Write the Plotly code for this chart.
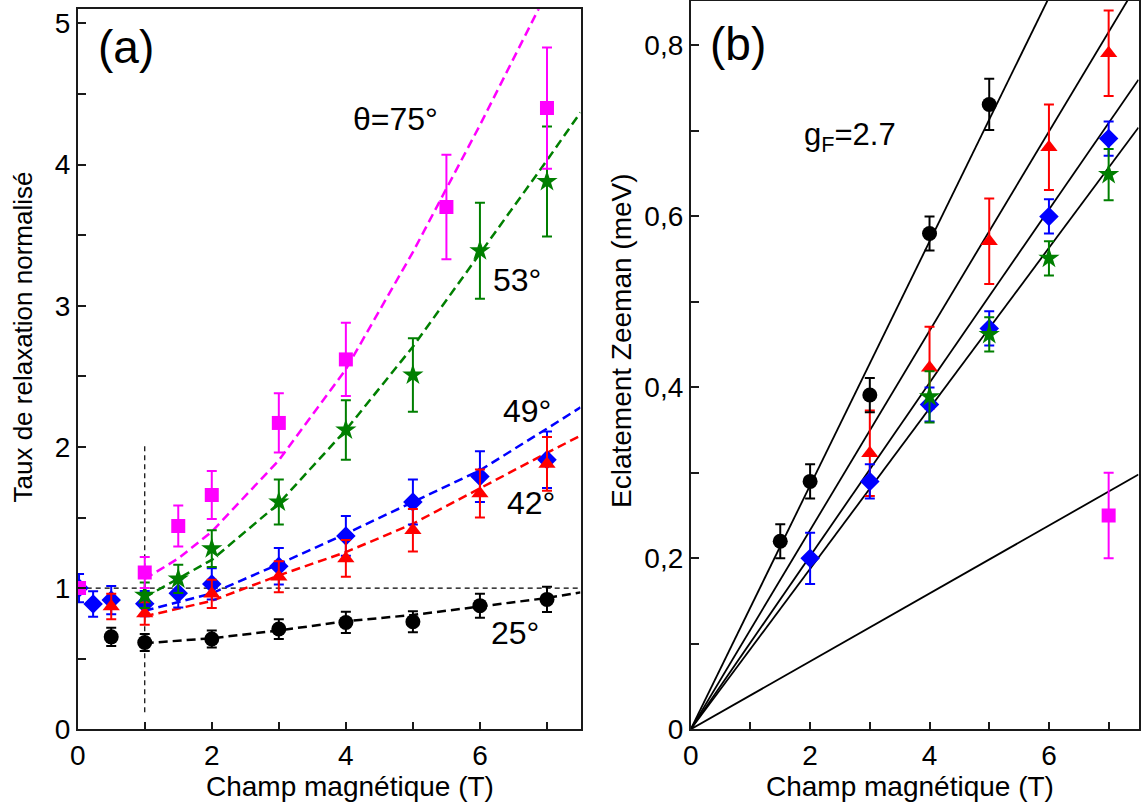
import plotly.graph_objects as go

W, H = 1142, 806

# ---------------- Panel (a) data ----------------
a_x25 = [0.5, 1, 2, 3, 4, 5, 6, 7]
a_y25 = [0.655, 0.615, 0.64, 0.71, 0.757, 0.762, 0.876, 0.92]
a_e25 = [0.065, 0.06, 0.06, 0.07, 0.075, 0.075, 0.085, 0.09]

a_x42 = [0.5, 1, 2, 3, 4, 5, 6, 7]
a_y42 = [0.87, 0.82, 0.96, 1.08, 1.21, 1.41, 1.67, 1.88]
a_e42 = [0.09, 0.08, 0.10, 0.11, 0.13, 0.15, 0.17, 0.19]

a_x49 = [0.02, 0.23, 0.5, 1, 1.5, 2, 3, 4, 5, 6, 7]
a_y49 = [1.0, 0.888, 0.915, 0.89, 0.963, 1.03, 1.155, 1.37, 1.61, 1.79, 1.91]
a_e49 = [0.10, 0.09, 0.10, 0.09, 0.10, 0.11, 0.13, 0.14, 0.16, 0.18, 0.20]

a_x53 = [1, 1.5, 2, 3, 4, 5, 6, 7]
a_y53 = [0.95, 1.065, 1.28, 1.61, 2.12, 2.51, 3.39, 3.88]
a_e53 = [0.09, 0.10, 0.13, 0.16, 0.21, 0.26, 0.34, 0.39]

a_x75 = [0.02, 1, 1.5, 2, 3, 4, 5.5, 7]
a_y75 = [1.0, 1.11, 1.44, 1.66, 2.17, 2.62, 3.70, 4.40]
a_e75 = [0.0, 0.11, 0.145, 0.17, 0.21, 0.26, 0.37, 0.43]

# fitted (dashed) curves
fit_x = [1, 2, 3, 4, 5, 6, 7, 7.5]
fit_25 = [0.61, 0.645, 0.70, 0.765, 0.81, 0.87, 0.93, 0.97]
fit_42 = [0.80, 0.91, 1.09, 1.255, 1.456, 1.71, 1.958, 2.08]
fit_49 = [0.84, 0.963, 1.17, 1.385, 1.61, 1.834, 2.13, 2.28]
fit_53 = [0.935, 1.20, 1.60, 2.12, 2.71, 3.37, 4.03, 4.37]
fit75_x = [1, 1.5, 2, 3, 4, 5, 6, 7]
fit_75 = [1.065, 1.21, 1.40, 1.905, 2.55, 3.38, 4.28, 5.22]

# reference lines
ref_h_x = [0, 7.5]
ref_h_y = [1, 1]
ref_v_x = [1, 1]
ref_v_y = [0.12, 2.03]

# ---------------- Panel (b) data ----------------
b_x25 = [1.5, 2, 3, 4, 5]
b_y25 = [0.22, 0.29, 0.391, 0.58, 0.731]
b_e25 = [0.02, 0.02, 0.02, 0.02, 0.03]

b_x42 = [3, 4, 5, 6, 7]
b_y42 = [0.323, 0.423, 0.571, 0.681, 0.791]
b_e42 = [0.05, 0.048, 0.05, 0.05, 0.05]

b_x49 = [2, 3, 4, 5, 6, 7]
b_y49 = [0.20, 0.29, 0.38, 0.469, 0.60, 0.691]
b_e49 = [0.03, 0.02, 0.02, 0.02, 0.02, 0.02]

b_x53 = [4, 5, 6, 7]
b_y53 = [0.389, 0.462, 0.551, 0.649]
b_e53 = [0.03, 0.02, 0.02, 0.03]

b_x75 = [7]
b_y75 = [0.25]
b_e75 = [0.05]

# g_F = 2.7 lines through origin: value reached at B = 7.5 T
line_x = [0, 7.5]
line_end = [1.070, 0.874, 0.760, 0.704, 0.298]

b_ytickvals = [0, 0.2, 0.4, 0.6, 0.8]
b_yticktext = ["0", "0,2", "0,4", "0,6", "0,8"]

MAG, GRN, BLU, RED, BLK = "#ff00ff", "#007f00", "#0000ff", "#ff0000", "#000000"
FONT = "Liberation Sans, Arial, sans-serif"

fig = go.Figure()


def pts(x, y, e, color, symbol, size, xa, ya):
    fig.add_trace(go.Scatter(
        x=x, y=y, mode="markers", xaxis=xa, yaxis=ya,
        marker=dict(symbol=symbol, size=size, color=color, line=dict(width=0)),
        error_y=dict(type="data", array=e, visible=True, color=color,
                     thickness=2, width=5),
        showlegend=False))


def dline(x, y, color, xa, ya, width=2.5, dash="9px,5px"):
    fig.add_trace(go.Scatter(
        x=x, y=y, mode="lines", xaxis=xa, yaxis=ya,
        line=dict(color=color, width=width, dash=dash), showlegend=False))


# panel (a)
dline(ref_h_x, ref_h_y, BLK, "x", "y", width=1.2, dash="5px,4px")
dline(ref_v_x, ref_v_y, BLK, "x", "y", width=1.2, dash="5px,4px")
dline(fit75_x, fit_75, MAG, "x", "y")
dline(fit_x, fit_53, GRN, "x", "y")
dline(fit_x, fit_49, BLU, "x", "y")
dline(fit_x, fit_42, RED, "x", "y")
dline(fit_x, fit_25, BLK, "x", "y")

pts(a_x49, a_y49, a_e49, BLU, "diamond", 15, "x", "y")
pts(a_x42, a_y42, a_e42, RED, "triangle-up", 15, "x", "y")
pts(a_x53, a_y53, a_e53, GRN, "star", 16, "x", "y")
pts(a_x25, a_y25, a_e25, BLK, "circle", 15, "x", "y")
pts(a_x75, a_y75, a_e75, MAG, "square", 14, "x", "y")

# panel (b)
for ye in line_end:
    fig.add_trace(go.Scatter(x=line_x, y=[0, ye], mode="lines", xaxis="x2", yaxis="y2",
                             line=dict(color=BLK, width=1.8), showlegend=False))
pts(b_x42, b_y42, b_e42, RED, "triangle-up", 15, "x2", "y2")
pts(b_x49, b_y49, b_e49, BLU, "diamond", 15, "x2", "y2")
pts(b_x53, b_y53, b_e53, GRN, "star", 16, "x2", "y2")
pts(b_x25, b_y25, b_e25, BLK, "circle", 15, "x2", "y2")
pts(b_x75, b_y75, b_e75, MAG, "square", 14, "x2", "y2")


def px_x(p):
    return p / W


def px_y(p):
    return 1 - p / H


axis_common = dict(
    showgrid=False, zeroline=False, showline=True, mirror=True, automargin=False,
    linecolor="#1a1a1a", linewidth=1.6,
    ticks="inside", ticklen=8, tickwidth=1.5, tickcolor="#1a1a1a",
    tickfont=dict(family=FONT, size=28, color="black"),
)
minor_common = dict(ticks="inside", ticklen=8, tickwidth=1.5, tickcolor="#1a1a1a")

fig.update_layout(
    width=W, height=H,
    margin=dict(l=0, r=0, t=0, b=0, autoexpand=False),
    paper_bgcolor="white", plot_bgcolor="white",
    font=dict(family=FONT, color="black"),
    xaxis=dict(domain=[px_x(77.7), px_x(580.5)], range=[0, 7.5], anchor="y",
               tickvals=[0, 2, 4, 6], minor=dict(tickvals=[1, 3, 5, 7], **minor_common),
               **axis_common),
    yaxis=dict(domain=[px_y(729.3), px_y(9.3)], range=[0, 5.1], anchor="x",
               tickvals=[0, 1, 2, 3, 4, 5],
               minor=dict(tickvals=[0.5, 1.5, 2.5, 3.5, 4.5], **minor_common),
               **axis_common),
    xaxis2=dict(domain=[px_x(690.7), px_x(1138.5)], range=[0, 7.5], anchor="y2",
                tickvals=[0, 2, 4, 6], minor=dict(tickvals=[1, 3, 5, 7], **minor_common),
                **axis_common),
    yaxis2=dict(domain=[px_y(729.3), px_y(1.0)], range=[0, 0.852], anchor="x2",
                tickvals=b_ytickvals, ticktext=b_yticktext,
                minor=dict(tickvals=[0.1, 0.3, 0.5, 0.7], **minor_common),
                **axis_common),
)


def label(text, cx, cy, size, angle=0):
    fig.add_annotation(text=text, x=px_x(cx), y=px_y(cy), xref="paper", yref="paper",
                       xanchor="center", yanchor="middle", showarrow=False,
                       textangle=angle, font=dict(family=FONT, size=size, color="black"))


label("Champ magnétique (T)", 350, 786, 28)
label("Champ magnétique (T)", 910, 786, 28)
label("Taux de relaxation normalisé", 22, 337.5, 26, -90)
label("Eclatement Zeeman (meV)", 621, 341, 28, -90)
label("(a)", 126, 47, 46)
label("(b)", 738, 44, 46)
label("θ=75°", 395, 119, 32)
label("53°", 517, 280, 32)
label("49°", 527, 411, 32)
label("42°", 531, 503, 32)
label("25°", 515, 633, 32)
label("g<sub>F</sub>=2.7", 850, 137, 31)

fig.write_html("out.html", config={"displayModeBar": False},
               post_script="document.body.style.margin='0';")
